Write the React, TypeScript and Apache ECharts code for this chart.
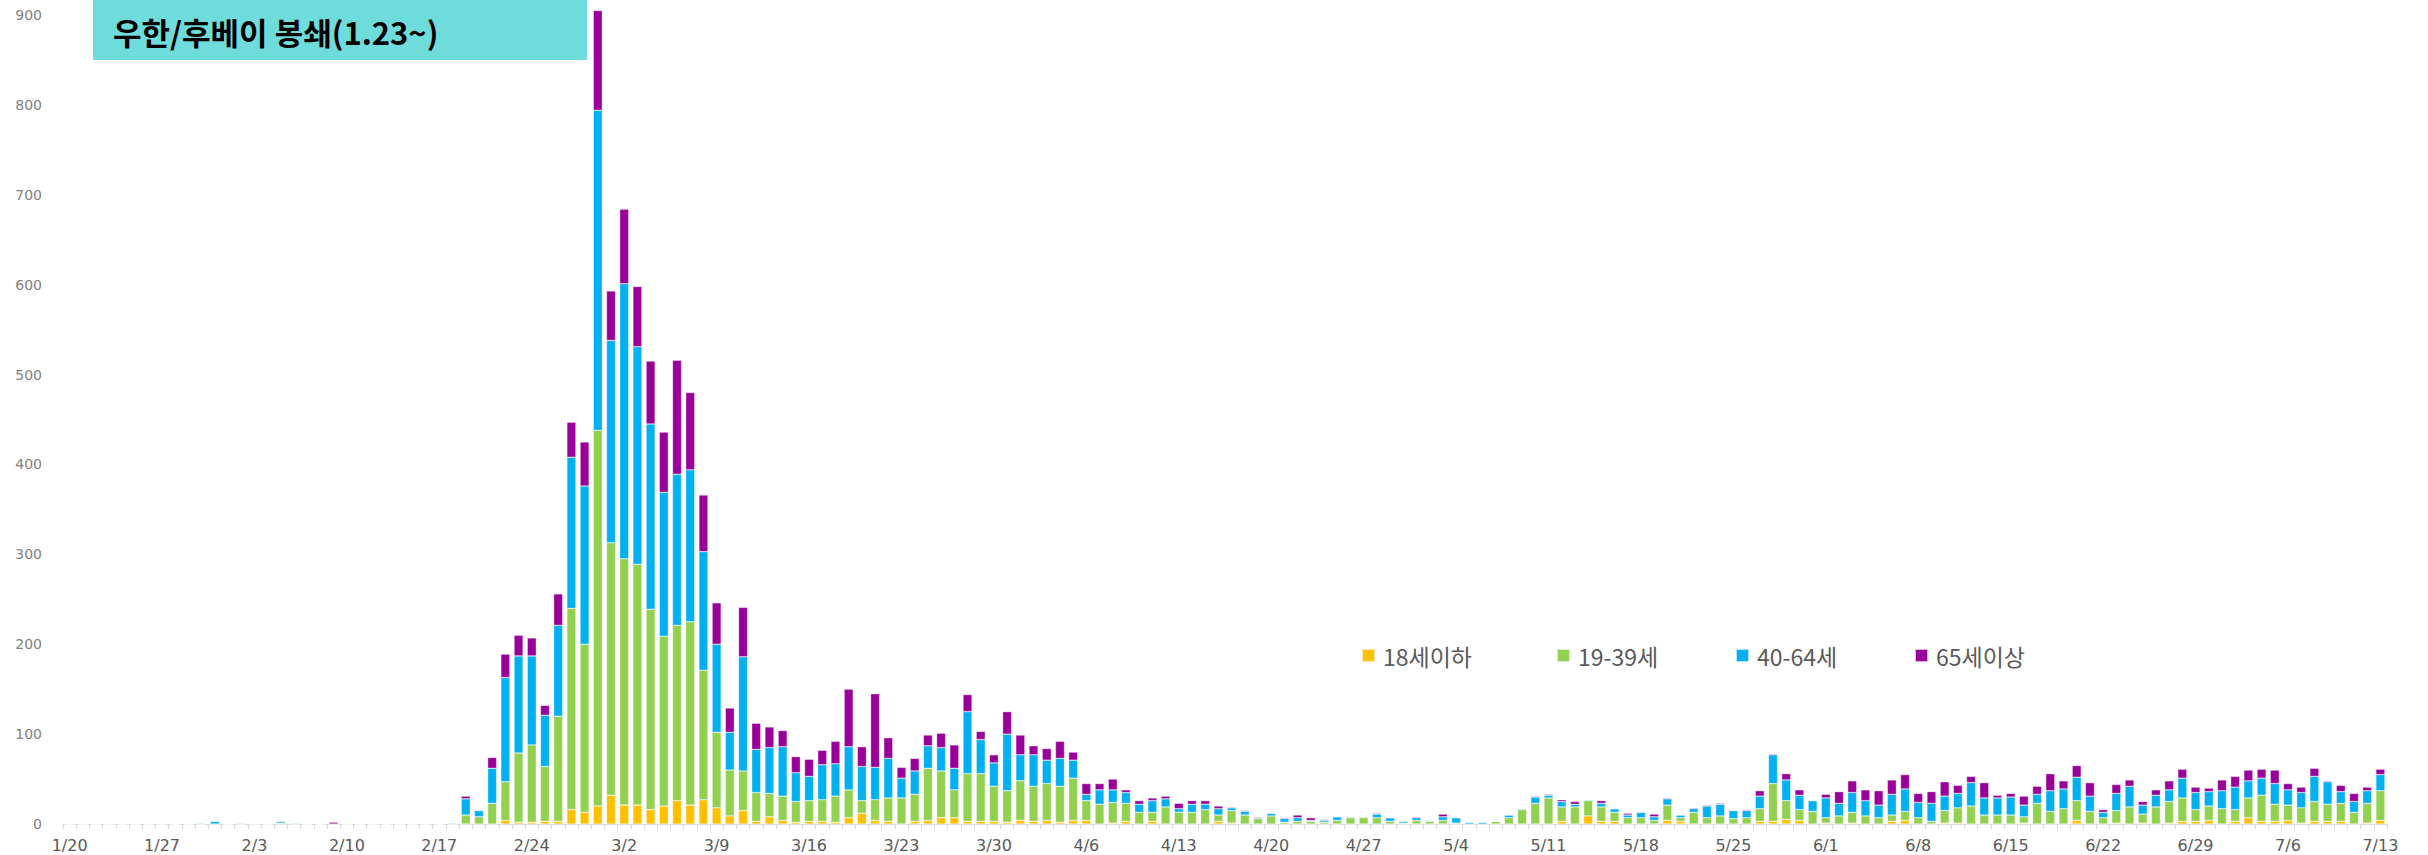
import React, { useEffect, useRef } from "react";
import * as echarts from "echarts";

const categories = [
  "1/20","1/21","1/22","1/23","1/24","1/25","1/26","1/27","1/28","1/29","1/30","1/31",
  "2/1","2/2","2/3","2/4","2/5","2/6","2/7","2/8","2/9","2/10","2/11","2/12","2/13","2/14","2/15","2/16","2/17","2/18","2/19","2/20","2/21","2/22","2/23","2/24","2/25","2/26","2/27","2/28","2/29",
  "3/1","3/2","3/3","3/4","3/5","3/6","3/7","3/8","3/9","3/10","3/11","3/12","3/13","3/14","3/15","3/16","3/17","3/18","3/19","3/20","3/21","3/22","3/23","3/24","3/25","3/26","3/27","3/28","3/29","3/30","3/31",
  "4/1","4/2","4/3","4/4","4/5","4/6","4/7","4/8","4/9","4/10","4/11","4/12","4/13","4/14","4/15","4/16","4/17","4/18","4/19","4/20","4/21","4/22","4/23","4/24","4/25","4/26","4/27","4/28","4/29","4/30",
  "5/1","5/2","5/3","5/4","5/5","5/6","5/7","5/8","5/9","5/10","5/11","5/12","5/13","5/14","5/15","5/16","5/17","5/18","5/19","5/20","5/21","5/22","5/23","5/24","5/25","5/26","5/27","5/28","5/29","5/30","5/31",
  "6/1","6/2","6/3","6/4","6/5","6/6","6/7","6/8","6/9","6/10","6/11","6/12","6/13","6/14","6/15","6/16","6/17","6/18","6/19","6/20","6/21","6/22","6/23","6/24","6/25","6/26","6/27","6/28","6/29","6/30",
  "7/1","7/2","7/3","7/4","7/5","7/6","7/7","7/8","7/9","7/10","7/11","7/12","7/13"
];

const seriesNames = ["18세이하", "19-39세", "40-64세", "65세이상"];

const age0to18 = [
  0,0,0,0,0,0,0,0,0,0,
  0,0,0,0,0,0,0,0,0,0,
  0,0,0,0,0,0,0,0,0,0,
  0,0,0,4,2,2,3,3,16,13,
  20,32,21,21,16,20,26,21,27,18,
  9,15,3,8,4,2,3,3,2,7,
  12,4,3,0,3,4,7,7,3,3,
  3,2,4,3,4,2,4,4,0,1,
  3,0,3,0,0,0,0,3,1,0,
  0,0,0,0,0,0,0,0,0,0,
  0,0,0,0,0,0,0,0,0,0,
  0,0,0,3,0,9,3,3,0,0,
  0,4,3,0,0,0,0,0,3,3,
  5,4,0,1,0,1,0,0,3,4,
  0,0,1,1,0,0,0,0,1,0,
  0,0,4,0,0,1,0,1,0,1,
  3,3,4,0,3,7,3,3,4,1,
  3,3,3,0,1,4
];

const age19to39 = [
  0,0,0,0,0,0,0,0,0,0,
  0,0,0,0,0,0,1,0,0,0,
  0,0,0,0,0,0,0,0,0,0,
  10,8,23,43,77,86,61,117,224,187,
  418,281,274,268,223,189,195,204,144,84,
  51,44,32,26,27,23,23,24,29,31,
  14,23,26,29,30,58,52,31,53,53,
  39,35,44,39,41,40,47,22,22,23,
  20,13,10,19,13,13,16,7,14,10,
  6,9,2,3,3,2,4,7,7,7,
  3,1,4,3,4,1,0,0,3,7,
  16,23,29,16,19,17,16,10,7,7,
  4,17,4,13,7,9,6,7,14,42,
  21,12,14,6,9,12,9,7,7,10,
  7,3,14,17,20,10,10,10,7,23,
  14,17,22,14,7,14,19,10,19,24,
  26,13,16,17,13,22,29,19,17,17,
  22,19,20,13,22,33
];

const age40to64 = [
  0,0,0,0,0,0,0,0,0,0,
  1,3,0,1,0,0,2,1,0,0,
  0,0,0,0,0,0,0,0,0,1,
  18,7,39,116,108,99,57,101,168,176,
  356,225,306,242,206,160,168,169,132,98,
  42,127,48,51,55,32,27,39,36,48,
  38,36,44,22,26,25,26,24,69,38,
  26,63,29,35,26,31,20,7,16,14,
  12,9,13,9,4,9,6,7,3,4,
  1,3,4,4,1,2,4,1,1,4,
  4,2,3,1,4,6,2,2,0,3,
  1,7,3,6,3,1,4,4,3,6,
  4,7,3,4,13,13,9,8,14,32,
  23,16,12,22,14,22,17,14,23,25,
  17,20,16,16,26,19,19,20,13,10,
  23,22,26,17,6,19,23,10,13,13,
  22,19,16,20,25,19,19,23,17,17,
  28,25,13,12,14,18
];

const age65plus = [
  0,0,0,0,0,0,0,0,0,0,
  0,0,0,0,0,0,0,0,0,0,
  2,0,0,0,0,0,0,0,0,0,
  3,0,12,26,23,20,11,35,39,49,
  111,55,83,67,70,67,127,86,63,46,
  27,55,29,23,18,18,19,16,25,64,
  22,82,23,12,14,12,16,26,19,9,
  9,25,22,10,13,19,9,12,7,12,
  3,4,3,3,6,4,4,3,1,1,
  1,0,1,3,3,1,0,0,0,1,
  0,0,1,0,3,0,0,0,0,0,
  0,1,1,2,3,0,3,0,2,0,
  3,1,0,1,1,1,0,1,6,1,
  7,6,0,4,13,13,12,16,16,16,
  10,13,16,9,7,17,3,4,10,9,
  19,9,13,15,3,10,7,4,6,10,
  10,6,4,12,12,12,10,15,7,6,
  9,1,7,9,4,6
];

const seriesData = [age0to18, age19to39, age40to64, age65plus];
const colors = ["#FFC000", "#92D050", "#00B0F0", "#990099"];
const legendLefts = [1361, 1556, 1735, 1914];

const titleText = "우한/후베이 봉쇄(1.23~)";

export default function App() {
  const ref = useRef<HTMLDivElement>(null);
  useEffect(() => {
    if (!ref.current) return;
    const chart = echarts.init(ref.current, null, { renderer: "svg" });
    const option: any = {
      animation: false,
      backgroundColor: "#ffffff",
      grid: { left: 63, right: 41, top: 15, bottom: 31, containLabel: false },
      xAxis: {
        type: "category",
        data: categories,
        boundaryGap: true,
        axisLine: { lineStyle: { color: "#d9d9d9", width: 1 } },
        axisTick: { show: true, interval: 0, length: 5, lineStyle: { color: "#d9d9d9" } },
        axisLabel: {
          interval: 6,
          color: "#595959",
          fontSize: 16,
          fontFamily: "DejaVu Sans",
          margin: 13,
        },
        splitLine: { show: false },
      },
      yAxis: {
        type: "value",
        min: 0,
        max: 900,
        interval: 100,
        splitLine: { show: false },
        axisLine: { show: false },
        axisTick: { show: false },
        axisLabel: { color: "#7f7f7f", fontSize: 14, margin: 21, fontFamily: "DejaVu Sans" },
      },
      legend: seriesNames.map((n, i) => ({
        data: [n],
        left: legendLefts[i],
        top: 644,
        padding: 0,
        itemWidth: 13,
        itemHeight: 13,
        icon: "rect",
        selectedMode: false,
        textStyle: {
          color: "#595959",
          fontSize: 23,
          fontFamily: "Noto Sans CJK KR",
          padding: [0, 0, 0, 3],
        },
      })),
      graphic: [
        {
          type: "group",
          left: 93,
          top: 0,
          children: [
            {
              type: "rect",
              shape: { x: 0, y: 0, width: 494, height: 60 },
              style: { fill: "#6FDCDC" },
            },
            {
              type: "text",
              x: 20,
              y: 31,
              style: {
                text: titleText,
                fill: "#000000",
                font: "bold 31px 'Noto Sans CJK KR'",
                verticalAlign: "middle",
                align: "left",
              },
            },
          ],
        },
      ],
      series: seriesNames.map((n, i) => ({
        name: n,
        type: "bar",
        stack: "total",
        data: seriesData[i],
        barWidth: 9,
        clip: false,
        itemStyle: { color: colors[i], borderColor: "rgba(255,255,255,0.7)", borderWidth: 0.5 },
        emphasis: { disabled: true },
      })),
    };
    chart.setOption(option);
    return () => chart.dispose();
  }, []);
  return (
    <div
      ref={ref}
      style={{ position: "fixed", left: 0, top: 0, width: 2428, height: 855, background: "#fff" }}
    />
  );
}
